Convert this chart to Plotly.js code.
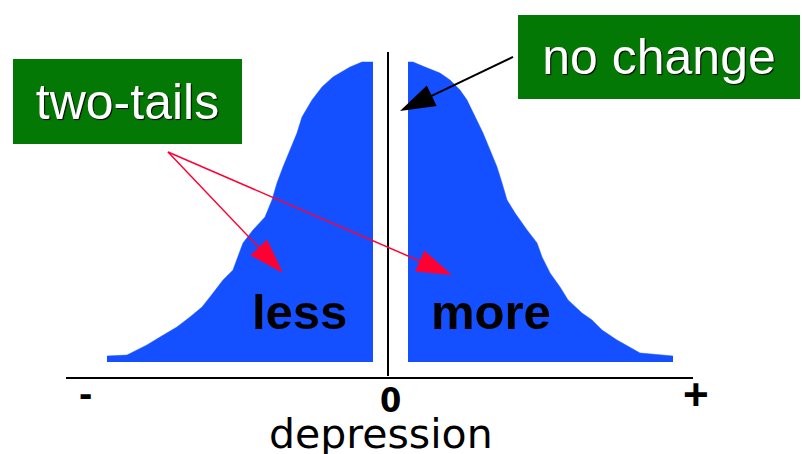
<!DOCTYPE html>
<html>
<head>
<meta charset="utf-8">
<script src="https://cdn.plot.ly/plotly-3.0.1.min.js"></script>
<style>
  html, body { margin: 0; padding: 0; background: #ffffff; }
  #chart { width: 802px; height: 454px; }
</style>
</head>
<body>
<div id="chart"></div>
<script>
// ---- data (x: depression score, 0 = no change; y: relative frequency) ----
const lessX = [-2.81, -2.61, -2.51, -2.41, -2.28, -2.11, -1.98, -1.86, -1.78, -1.65, -1.55, -1.50, -1.45, -1.35, -1.23, -1.16, -1.11, -1.05, -0.98, -0.91, -0.86, -0.76, -0.66, -0.55, -0.38, -0.26, -0.15];
const lessY = [0.020, 0.023, 0.040, 0.057, 0.083, 0.117, 0.150, 0.183, 0.217, 0.273, 0.307, 0.350, 0.397, 0.440, 0.483, 0.540, 0.597, 0.650, 0.707, 0.763, 0.817, 0.873, 0.917, 0.950, 0.983, 1.000, 1.000];
const moreX = [0.20, 0.25, 0.37, 0.52, 0.62, 0.72, 0.79, 0.87, 0.95, 1.02, 1.09, 1.14, 1.19, 1.27, 1.39, 1.49, 1.54, 1.62, 1.72, 1.80, 1.94, 2.04, 2.14, 2.29, 2.42, 2.52, 2.85];
const moreY = [1.000, 1.000, 0.983, 0.963, 0.940, 0.907, 0.873, 0.817, 0.763, 0.707, 0.650, 0.597, 0.540, 0.497, 0.440, 0.397, 0.350, 0.297, 0.250, 0.207, 0.163, 0.140, 0.107, 0.073, 0.050, 0.030, 0.020];
const noChangeX = [0, 0];
const noChangeY = [-0.047, 1.033];
const tickLabels = ['-', '0', '+'];
const boxLabels = ['two-tails', 'no change'];
const regionLabels = ['less', 'more'];
const axisTitle = 'depression';
// arrow paths: [start, tip]
const arrowNoChangeX = [1.25, 0.12];
const arrowNoChangeY = [1.017, 0.837];
const arrowLessX = [-2.20, -1.05];
const arrowLessY = [0.700, 0.297];
const arrowMoreX = [-2.20, 0.64];
const arrowMoreY = [0.700, 0.290];

// ---- layout helpers (figure pixel -> paper) ----
const M = {l: 66, r: 109, t: 0, b: 77};
const W = 802, H = 454;
const PW = W - M.l - M.r, PH = H - M.t - M.b;
const px = v => (v - M.l) / PW;
const py = v => (H - M.b - v) / PH;

const BLUE = '#1450ff';
const GREEN = '#047804';
const RED = '#ff0033';
const SANS = 'Liberation Sans, Arial, sans-serif';

function arrowTrace(xs, ys, color, width) {
  return {x: xs, y: ys, type: 'scatter', mode: 'lines+markers',
    line: {color: color, width: width},
    marker: {symbol: 'arrow', size: [0, 37], angleref: 'previous', color: color,
             opacity: 1, line: {width: 0}},
    hoverinfo: 'skip'};
}

const traces = [
  {x: lessX, y: lessY, type: 'scatter', mode: 'lines', fill: 'tozeroy',
   fillcolor: BLUE, line: {color: BLUE, width: 0.5}, hoverinfo: 'skip'},
  {x: moreX, y: moreY, type: 'scatter', mode: 'lines', fill: 'tozeroy',
   fillcolor: BLUE, line: {color: BLUE, width: 0.5}, hoverinfo: 'skip'},
  {x: noChangeX, y: noChangeY, type: 'scatter', mode: 'lines',
   line: {color: '#000000', width: 2}, hoverinfo: 'skip'},
  arrowTrace(arrowNoChangeX, arrowNoChangeY, '#000000', 2),
  arrowTrace(arrowLessX, arrowLessY, RED, 1.5),
  arrowTrace(arrowMoreX, arrowMoreY, RED, 1.5)
];

const whiteFont = {family: SANS, size: 50, color: '#ffffff', shadow: '1px 1px 1px #000000'};

const annotations = [
  {text: boxLabels[0], xref: 'paper', yref: 'paper', x: px(13), y: py(59),
   xanchor: 'left', yanchor: 'top', width: 229, height: 85, align: 'center', valign: 'middle',
   bgcolor: GREEN, borderpad: 0, borderwidth: 0, showarrow: false, font: whiteFont},
  {text: boxLabels[1], xref: 'paper', yref: 'paper', x: px(518), y: py(15),
   xanchor: 'left', yanchor: 'top', width: 282, height: 84, align: 'center', valign: 'middle',
   bgcolor: GREEN, borderpad: 0, borderwidth: 0, showarrow: false, font: whiteFont},
  {text: '<b>' + regionLabels[0] + '</b>', xref: 'paper', yref: 'paper', x: px(299), y: py(312),
   xanchor: 'center', yanchor: 'middle', showarrow: false,
   font: {family: SANS, size: 49, color: '#000000'}},
  {text: '<b>' + regionLabels[1] + '</b>', xref: 'paper', yref: 'paper', x: px(491), y: py(312),
   xanchor: 'center', yanchor: 'middle', showarrow: false,
   font: {family: SANS, size: 49, color: '#000000'}},
  {text: '<b>' + tickLabels[0] + '</b>', xref: 'paper', yref: 'paper', x: px(85), y: py(393),
   xanchor: 'center', yanchor: 'middle', showarrow: false,
   font: {family: SANS, size: 40, color: '#000000'}},
  {text: '<b>' + tickLabels[1] + '</b>', xref: 'paper', yref: 'paper', x: px(390), y: py(400),
   xanchor: 'center', yanchor: 'middle', showarrow: false,
   font: {family: 'Liberation Sans Narrow, DejaVu Sans Condensed, Liberation Sans, sans-serif', size: 34, color: '#000000'}},
  {text: '<b>' + tickLabels[2] + '</b>', xref: 'paper', yref: 'paper', x: px(696), y: py(394.5),
   xanchor: 'center', yanchor: 'middle', showarrow: false,
   font: {family: SANS, size: 44, color: '#000000'}},
  {text: axisTitle, xref: 'paper', yref: 'paper', x: px(381), y: py(434),
   xanchor: 'center', yanchor: 'middle', showarrow: false,
   font: {family: 'DejaVu Sans, sans-serif', size: 41, color: '#000000'}}
];

const layout = {
  width: W, height: H,
  margin: M,
  paper_bgcolor: '#ffffff', plot_bgcolor: '#ffffff',
  showlegend: false,
  xaxis: {range: [-3.22, 3.05], showline: true, linecolor: '#000000', linewidth: 2,
          showgrid: false, zeroline: false, showticklabels: false, ticks: '',
          fixedrange: true},
  yaxis: {range: [-0.05, 1.20667], visible: false, fixedrange: true},
  annotations: annotations
};

Plotly.newPlot('chart', traces, layout, {staticPlot: true, displayModeBar: false});
</script>
</body>
</html>
